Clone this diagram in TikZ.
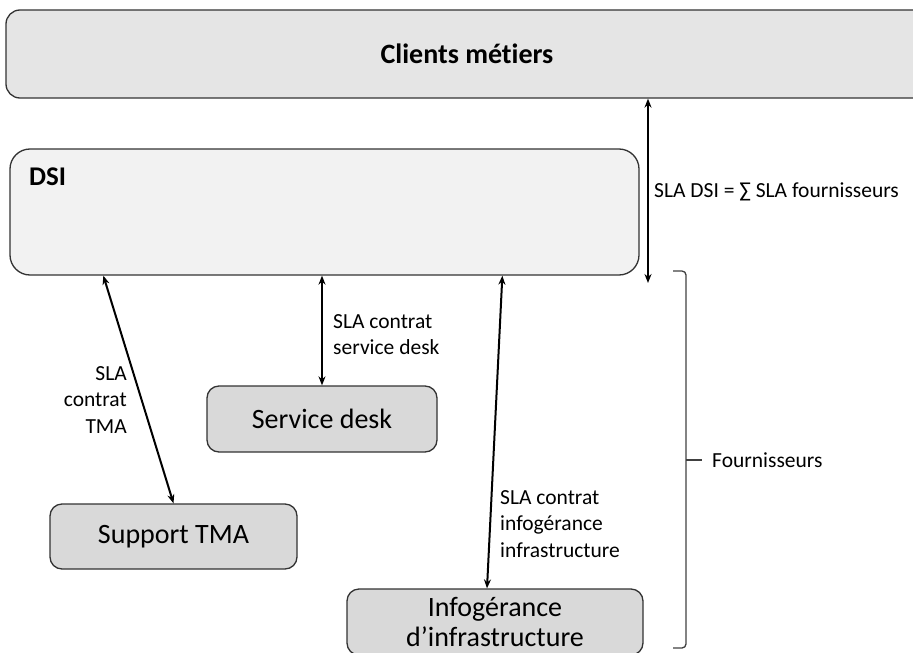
\documentclass[tikz,border=0pt]{standalone}
\usepackage{fontspec}
\setmainfont{Carlito}[Ligatures=NoCommon]
\usetikzlibrary{arrows.meta}
\begin{document}
\begin{tikzpicture}[x=1pt,y=-1pt,
    box/.style={draw=black!80,line width=1.3pt,rounded corners=12pt,fill=black!15,
      inner sep=0pt,align=center,font=\fontsize{28}{31}\selectfont},
    sla/.style={inner sep=0pt,font=\fontsize{21.5}{26.5}\selectfont},
    link/.style={{Stealth[length=9pt,width=7pt]}-{Stealth[length=9pt,width=7pt]},line width=2pt}]
  \clip (0,0) rectangle (913,653);
  % boxes
  \node[box,fill=black!10,rounded corners=14pt,minimum width=922pt,minimum height=88pt,
    font=\fontsize{28}{31}\selectfont\bfseries] (clients) at (467,54) {Clients métiers};
  \node[box,fill=black!5,rounded corners=20pt,minimum width=629pt,minimum height=126pt] (dsi) at (324.5,212) {};
  \node[anchor=north west,inner sep=0pt,font=\fontsize{27}{30}\selectfont\bfseries] (dsiname) at (29,168) {DSI};
  \node[box,minimum width=230pt,minimum height=66pt] (desk) at (322,419) {Service desk};
  \node[box,minimum width=247pt,minimum height=65pt] (tma) at (173.5,536.5) {Support TMA};
  \node[box,minimum width=296pt,minimum height=66pt,font=\fontsize{28}{30}\selectfont] (infra) at (495,622) {Infogérance\\d’infrastructure};
  \coordinate (slabottom) at (648,283);
  % contracts
  \begin{scope}[link]
    \draw (slabottom |- clients.south) -- (slabottom);
    \draw ([xshift=94pt]dsi.south west) -- (tma.north);
    \draw (desk.north |- dsi.south) -- (desk.north);
    \draw ([xshift=493pt]dsi.south west) -- ([xshift=-8pt]infra.north);
  \end{scope}
  \node[sla,anchor=west] (slasum) at (654,192) {SLA DSI = ∑ SLA fournisseurs};
  \node[sla,anchor=north east,align=right] (slatma) at (127,366) {SLA\\contrat\\TMA};
  \node[sla,anchor=north west,align=left] (sladesk) at (333,314) {SLA contrat\\service desk};
  \node[sla,anchor=north west,align=left] (slainfra) at (500,490) {SLA contrat\\infogérance\\infrastructure};
  % suppliers bracket
  \draw[line width=1.3pt,black!75,rounded corners=4pt] (673,271) -- (686,271) -- (686,648) -- (673,648);
  \draw[line width=1.3pt,black!75] (686,460) -- (702,460);
  \node[sla,anchor=west] (fourn) at (712,460) {Fournisseurs};
\end{tikzpicture}
\end{document}
